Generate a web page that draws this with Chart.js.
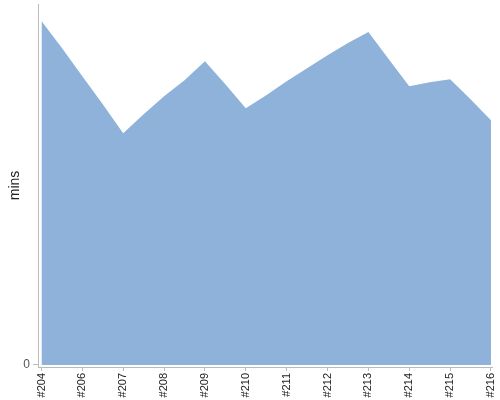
<!DOCTYPE html>
<html>
<head>
<meta charset="utf-8">
<script src="https://cdn.jsdelivr.net/npm/chart.js@4.4.1/dist/chart.umd.min.js"></script>
<style>
  html, body { margin: 0; padding: 0; background: #fff; }
  #wrap { width: 500px; height: 400px; }
</style>
</head>
<body>
<div id="wrap"><canvas id="buildChart"></canvas></div>
<script>
// build numbers, two runs per visible label
const builds = ['#204', '#205', '#206', '#206', '#207', '#207', '#208', '#208', '#209', '#209', '#210', '#210',
  '#211', '#211', '#212', '#212', '#213', '#213', '#214', '#214', '#215', '#215', '#216'];
const durations = [34.3, 31.6, 28.8, 26.0, 23.1, 25.0, 26.8, 28.4, 30.3, 28.0, 25.6, 26.9,
  28.3, 29.6, 30.9, 32.1, 33.2, 30.5, 27.8, 28.2, 28.5, 26.5, 24.4];
const yTicks = [0];

const axisGrey = '#bbbbbb';
const font = { family: '"Liberation Sans", Arial, sans-serif' };

const ctx = document.getElementById('buildChart').getContext('2d');
new Chart(ctx, {
  type: 'line',
  data: {
    datasets: [{
      label: 'mins',
      data: builds.map((b, i) => ({ x: i, y: durations[i] })),
      backgroundColor: 'rgb(143, 178, 219)',
      borderWidth: 0,
      pointRadius: 0,
      fill: 'origin',
      tension: 0,
    }],
  },
  options: {
    responsive: true,
    maintainAspectRatio: false,
    animation: false,
    layout: { padding: { top: 4, right: 8, left: 0, bottom: 0 } },
    plugins: { legend: { display: false }, tooltip: { enabled: false } },
    scales: {
      x: {
        type: 'linear',
        min: -0.17,
        max: 22.05,
        afterBuildTicks: (s) => {
          s.ticks = builds.map((b, i) => ({ value: i })).filter(t => t.value % 2 === 0);
        },
        afterFit: (s) => { s.paddingLeft = 0; s.paddingRight = 0; s.height = 33; },
        ticks: {
          autoSkip: false,
          maxRotation: 90,
          minRotation: 90,
          padding: 2,
          color: '#222',
          font: { ...font, size: 11 },
          callback: (v) => builds[v],
        },
        grid: { drawOnChartArea: false, drawTicks: true, tickLength: 4, color: axisGrey },
        border: { color: axisGrey },
      },
      y: {
        min: -0.2,
        max: 36,
        afterBuildTicks: (s) => { s.ticks = yTicks.map(v => ({ value: v })); },
        afterFit: (s) => { s.width = 38; s.paddingTop = 0; s.paddingBottom = 0; },
        ticks: { color: '#555', padding: 3, font: { ...font, size: 12 } },
        title: { display: true, text: 'mins', color: '#222', padding: { top: 7, bottom: 0 }, font: { ...font, size: 14 } },
        grid: { drawOnChartArea: false, drawTicks: true, tickLength: 5, color: axisGrey },
        border: { color: axisGrey },
      },
    },
  },
});
</script>
</body>
</html>
